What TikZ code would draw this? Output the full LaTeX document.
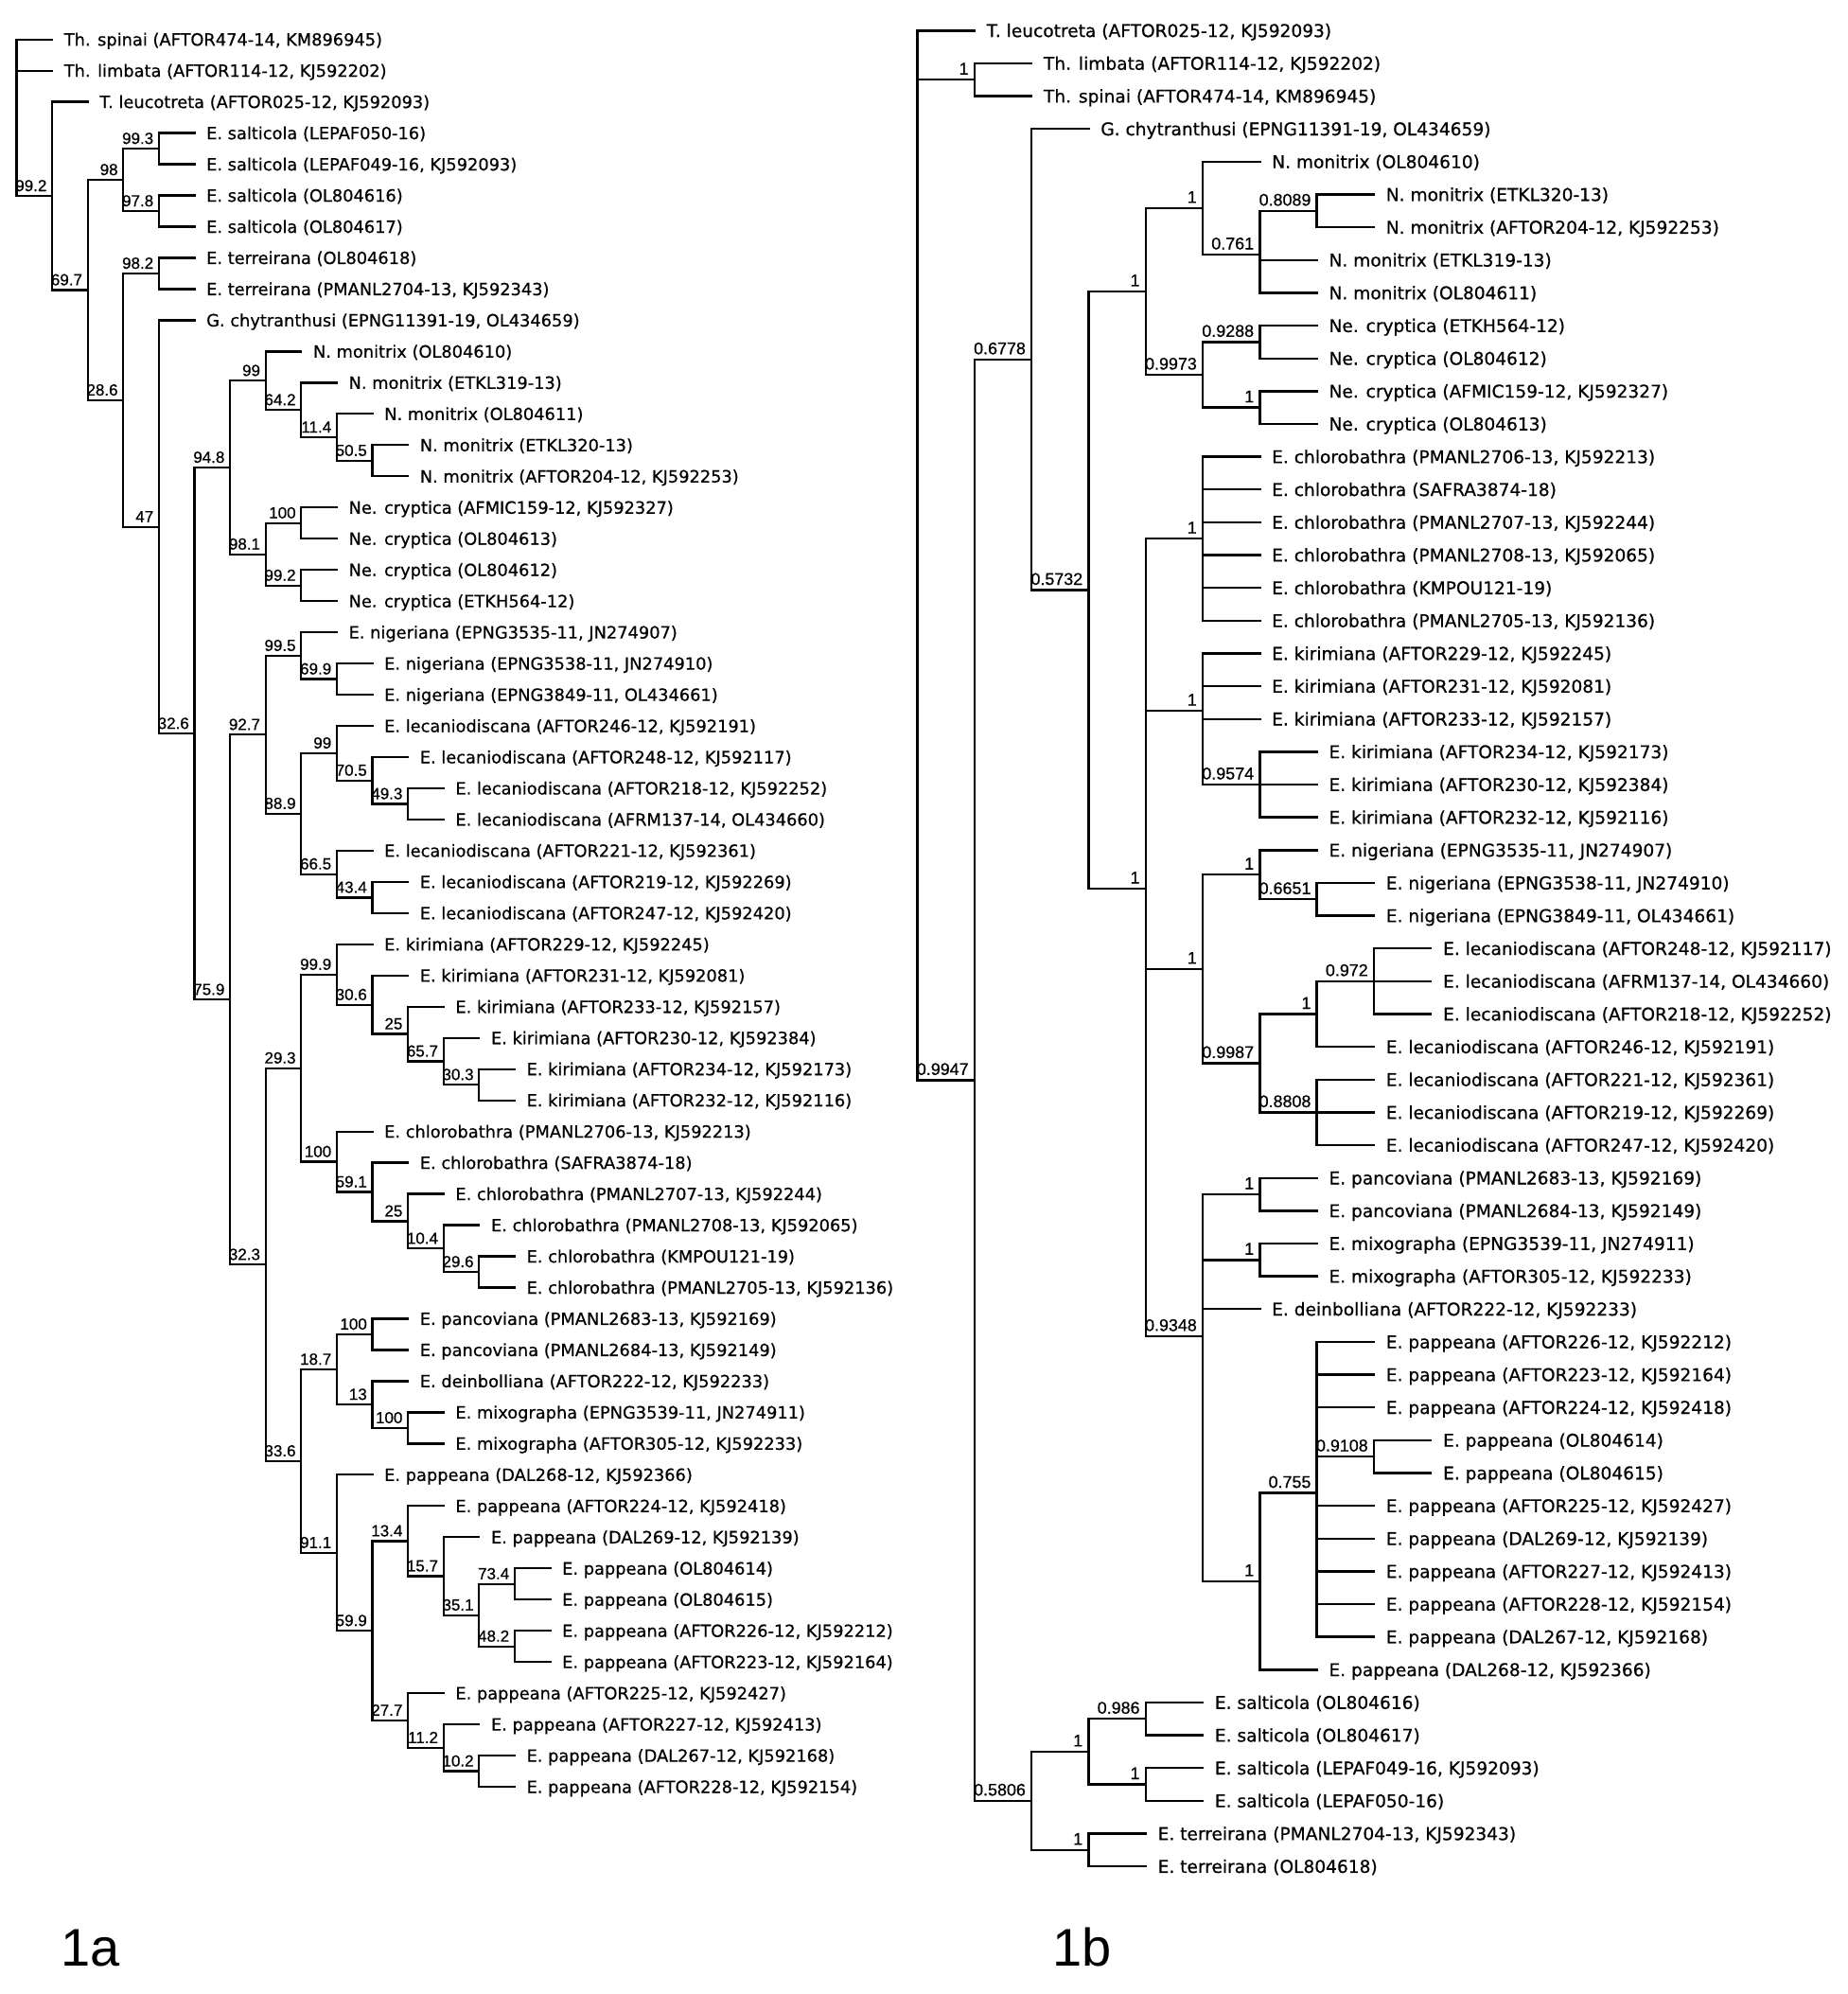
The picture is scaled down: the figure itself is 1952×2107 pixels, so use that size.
\documentclass[tikz,border=0pt]{standalone}
\usepackage{fontspec}
\setmainfont{DejaVu Sans}
\newfontfamily\leaffont{DejaVu Sans}[FakeBold=0.6]
\newfontfamily\supfont{Liberation Sans}[FakeBold=0.6]
\newfontfamily\panelfont{Liberation Sans}
\newcommand\leafL[5]{\coordinate (#1) at ({lx(#3)},{ly(#4)}); \draw[brL] (#2) |- (#1); \node[lleaf] (#1t) at ([xshift=12.5pt,yshift=-6.5pt]#1) {#5};}
\newcommand\intL[5]{\coordinate (#1) at ({lx(#3)},{ly(#4)}); \draw[brL] (#2) |- (#1); \node[lsup] (#1s) at ([xshift=-5.5pt,yshift=5pt]#1) {#5};}
\newcommand\leafR[5]{\coordinate (#1) at ({rx(#3)},{ry(#4)}); \draw[brR] (#2) |- (#1); \node[rleaf] (#1t) at ([xshift=12.7pt,yshift=-6.8pt]#1) {#5};}
\newcommand\intR[5]{\coordinate (#1) at ({rx(#3)},{ry(#4)}); \draw[brR] (#2) |- (#1); \node[rsup] (#1s) at ([xshift=-6pt,yshift=5.5pt]#1) {#5};}
\begin{document}
\begin{tikzpicture}[x=1pt,y=-1pt,
  declare function={lx(\p)=17.5+37.6*\p; ly(\q)=41.7+32.97*(\q-1); rx(\p)=969.5+60.3*\p; ry(\q)=32.3+34.64*(\q-1);},
  brL/.style={line width=2.3pt, line cap=rect},
  brR/.style={line width=2.4pt, line cap=rect},
  lleaf/.style={anchor=base west, inner sep=0pt, font=\leaffont\fontsize{17.8}{20}\selectfont},
  rleaf/.style={anchor=base west, inner sep=0pt, font=\leaffont\fontsize{18.6}{21}\selectfont},
  lsup/.style={anchor=base east, inner sep=0pt, font=\supfont\fontsize{17}{18}\selectfont},
  rsup/.style={anchor=base east, inner sep=0pt, font=\supfont\fontsize{17.9}{19}\selectfont},
  panel/.style={anchor=base west, inner sep=0pt, font=\panelfont\fontsize{56}{60}\selectfont}]
\fill[white] (0,0) rectangle (1952,2107);
\useasboundingbox (0,0) rectangle (1952,2107);
% ---------------- left tree (1a) ----------------
\coordinate (aR) at ({lx(0)},{ly(3.0051)});
\leafL{a1}{aR}{1}{1}{Th. spinai (AFTOR474-14, KM896945)}
\leafL{a2}{aR}{1}{2}{Th. limbata (AFTOR114-12, KJ592202)}
\intL{aA}{aR}{1}{6.01538}{99.2}
\leafL{a3}{aA}{2}{3}{T. leucotreta (AFTOR025-12, KJ592093)}
\intL{aB}{aA}{2}{9.03076}{69.7}
\intL{aC}{aB}{3}{5.5}{98}
\intL{aE}{aC}{4}{4.5}{99.3}
\leafL{a4}{aE}{5}{4}{E. salticola (LEPAF050-16)}
\leafL{a5}{aE}{5}{5}{E. salticola (LEPAF049-16, KJ592093)}
\intL{aF}{aC}{4}{6.5}{97.8}
\leafL{a6}{aF}{5}{6}{E. salticola (OL804616)}
\leafL{a7}{aF}{5}{7}{E. salticola (OL804617)}
\intL{aD}{aB}{3}{12.56152}{28.6}
\intL{aG}{aD}{4}{8.5}{98.2}
\leafL{a8}{aG}{5}{8}{E. terreirana (OL804618)}
\leafL{a9}{aG}{5}{9}{E. terreirana (PMANL2704-13, KJ592343)}
\intL{aH}{aD}{4}{16.62305}{47}
\leafL{a10}{aH}{5}{10}{G. chytranthusi (EPNG11391-19, OL434659)}
\intL{aI}{aH}{5}{23.24609}{32.6}
\intL{aJ}{aI}{6}{14.71875}{94.8}
\intL{aM}{aJ}{7}{11.9375}{99}
\leafL{a11}{aM}{8}{11}{N. monitrix (OL804610)}
\intL{aO}{aM}{8}{12.875}{64.2}
\leafL{a12}{aO}{9}{12}{N. monitrix (ETKL319-13)}
\intL{aP}{aO}{9}{13.75}{11.4}
\leafL{a13}{aP}{10}{13}{N. monitrix (OL804611)}
\intL{aQ}{aP}{10}{14.5}{50.5}
\leafL{a14}{aQ}{11}{14}{N. monitrix (ETKL320-13)}
\leafL{a15}{aQ}{11}{15}{N. monitrix (AFTOR204-12, KJ592253)}
\intL{aN}{aJ}{7}{17.5}{98.1}
\intL{aS}{aN}{8}{16.5}{100}
\leafL{a16}{aS}{9}{16}{Ne. cryptica (AFMIC159-12, KJ592327)}
\leafL{a17}{aS}{9}{17}{Ne. cryptica (OL804613)}
\intL{aT}{aN}{8}{18.5}{99.2}
\leafL{a18}{aT}{9}{18}{Ne. cryptica (OL804612)}
\leafL{a19}{aT}{9}{19}{Ne. cryptica (ETKH564-12)}
\intL{aK}{aI}{6}{31.77344}{75.9}
\intL{aU}{aK}{7}{23.28125}{92.7}
\intL{aW}{aU}{8}{20.75}{99.5}
\leafL{a20}{aW}{9}{20}{E. nigeriana (EPNG3535-11, JN274907)}
\intL{aY}{aW}{9}{21.5}{69.9}
\leafL{a21}{aY}{10}{21}{E. nigeriana (EPNG3538-11, JN274910)}
\leafL{a22}{aY}{10}{22}{E. nigeriana (EPNG3849-11, OL434661)}
\intL{aX}{aU}{8}{25.8125}{88.9}
\intL{aZ}{aX}{9}{23.875}{99}
\leafL{a23}{aZ}{10}{23}{E. lecaniodiscana (AFTOR246-12, KJ592191)}
\intL{aAB}{aZ}{10}{24.75}{70.5}
\leafL{a24}{aAB}{11}{24}{E. lecaniodiscana (AFTOR248-12, KJ592117)}
\intL{aAC}{aAB}{11}{25.5}{49.3}
\leafL{a25}{aAC}{12}{25}{E. lecaniodiscana (AFTOR218-12, KJ592252)}
\leafL{a26}{aAC}{12}{26}{E. lecaniodiscana (AFRM137-14, OL434660)}
\intL{aAA}{aX}{9}{27.75}{66.5}
\leafL{a27}{aAA}{10}{27}{E. lecaniodiscana (AFTOR221-12, KJ592361)}
\intL{aAD}{aAA}{10}{28.5}{43.4}
\leafL{a28}{aAD}{11}{28}{E. lecaniodiscana (AFTOR219-12, KJ592269)}
\leafL{a29}{aAD}{11}{29}{E. lecaniodiscana (AFTOR247-12, KJ592420)}
\intL{aV}{aK}{7}{40.26563}{32.3}
\intL{aAE}{aV}{8}{33.96875}{29.3}
\intL{aAG}{aAE}{9}{30.96875}{99.9}
\leafL{a30}{aAG}{10}{30}{E. kirimiana (AFTOR229-12, KJ592245)}
\intL{aAI}{aAG}{10}{31.9375}{30.6}
\leafL{a31}{aAI}{11}{31}{E. kirimiana (AFTOR231-12, KJ592081)}
\intL{aAJ}{aAI}{11}{32.875}{25}
\leafL{a32}{aAJ}{12}{32}{E. kirimiana (AFTOR233-12, KJ592157)}
\intL{aAK}{aAJ}{12}{33.75}{65.7}
\leafL{a33}{aAK}{13}{33}{E. kirimiana (AFTOR230-12, KJ592384)}
\intL{aAL}{aAK}{13}{34.5}{30.3}
\leafL{a34}{aAL}{14}{34}{E. kirimiana (AFTOR234-12, KJ592173)}
\leafL{a35}{aAL}{14}{35}{E. kirimiana (AFTOR232-12, KJ592116)}
\intL{aAH}{aAE}{9}{36.96875}{100}
\leafL{a36}{aAH}{10}{36}{E. chlorobathra (PMANL2706-13, KJ592213)}
\intL{aAM}{aAH}{10}{37.9375}{59.1}
\leafL{a37}{aAM}{11}{37}{E. chlorobathra (SAFRA3874-18)}
\intL{aAN}{aAM}{11}{38.875}{25}
\leafL{a38}{aAN}{12}{38}{E. chlorobathra (PMANL2707-13, KJ592244)}
\intL{aAO}{aAN}{12}{39.75}{10.4}
\leafL{a39}{aAO}{13}{39}{E. chlorobathra (PMANL2708-13, KJ592065)}
\intL{aAP}{aAO}{13}{40.5}{29.6}
\leafL{a40}{aAP}{14}{40}{E. chlorobathra (KMPOU121-19)}
\leafL{a41}{aAP}{14}{41}{E. chlorobathra (PMANL2705-13, KJ592136)}
\intL{aAF}{aV}{8}{46.5625}{33.6}
\intL{aAQ}{aAF}{9}{43.625}{18.7}
\intL{aAS}{aAQ}{10}{42.5}{100}
\leafL{a42}{aAS}{11}{42}{E. pancoviana (PMANL2683-13, KJ592169)}
\leafL{a43}{aAS}{11}{43}{E. pancoviana (PMANL2684-13, KJ592149)}
\intL{aAT}{aAQ}{10}{44.75}{13}
\leafL{a44}{aAT}{11}{44}{E. deinbolliana (AFTOR222-12, KJ592233)}
\intL{aAU}{aAT}{11}{45.5}{100}
\leafL{a45}{aAU}{12}{45}{E. mixographa (EPNG3539-11, JN274911)}
\leafL{a46}{aAU}{12}{46}{E. mixographa (AFTOR305-12, KJ592233)}
\intL{aAR}{aAF}{9}{49.5}{91.1}
\leafL{a47}{aAR}{10}{47}{E. pappeana (DAL268-12, KJ592366)}
\intL{aAV}{aAR}{10}{52}{59.9}
\intL{aAW}{aAV}{11}{49.125}{13.4}
\leafL{a48}{aAW}{12}{48}{E. pappeana (AFTOR224-12, KJ592418)}
\intL{aAY}{aAW}{12}{50.25}{15.7}
\leafL{a49}{aAY}{13}{49}{E. pappeana (DAL269-12, KJ592139)}
\intL{aAZ}{aAY}{13}{51.5}{35.1}
\intL{aBA}{aAZ}{14}{50.5}{73.4}
\leafL{a50}{aBA}{15}{50}{E. pappeana (OL804614)}
\leafL{a51}{aBA}{15}{51}{E. pappeana (OL804615)}
\intL{aBB}{aAZ}{14}{52.5}{48.2}
\leafL{a52}{aBB}{15}{52}{E. pappeana (AFTOR226-12, KJ592212)}
\leafL{a53}{aBB}{15}{53}{E. pappeana (AFTOR223-12, KJ592164)}
\intL{aAX}{aAV}{11}{54.875}{27.7}
\leafL{a54}{aAX}{12}{54}{E. pappeana (AFTOR225-12, KJ592427)}
\intL{aBC}{aAX}{12}{55.75}{11.2}
\leafL{a55}{aBC}{13}{55}{E. pappeana (AFTOR227-12, KJ592413)}
\intL{aBD}{aBC}{13}{56.5}{10.2}
\leafL{a56}{aBD}{14}{56}{E. pappeana (DAL267-12, KJ592168)}
\leafL{a57}{aBD}{14}{57}{E. pappeana (AFTOR228-12, KJ592154)}
% ---------------- right tree (1b) ----------------
\coordinate (bR) at ({rx(0)},{ry(12.17)});
\leafR{b1}{bR}{1}{1}{T. leucotreta (AFTOR025-12, KJ592093)}
\intR{bq1}{bR}{1}{2.5}{1}
\leafR{b2}{bq1}{2}{2}{Th. limbata (AFTOR114-12, KJ592202)}
\leafR{b3}{bq1}{2}{3}{Th. spinai (AFTOR474-14, KM896945)}
\intR{bq2}{bR}{1}{33.01671}{0.9947}
\intR{bq3}{bq2}{2}{11.03342}{0.6778}
\leafR{b4}{bq3}{3}{4}{G. chytranthusi (EPNG11391-19, OL434659)}
\intR{bq5}{bq3}{3}{18.06684}{0.5732}
\intR{bq6}{bq5}{4}{8.958333}{1}
\intR{bq8}{bq6}{5}{6.416667}{1}
\leafR{b5}{bq8}{6}{5}{N. monitrix (OL804610)}
\intR{bq10}{bq8}{6}{7.833333}{0.761}
\intR{bq11}{bq10}{7}{6.5}{0.8089}
\leafR{b6}{bq11}{8}{6}{N. monitrix (ETKL320-13)}
\leafR{b7}{bq11}{8}{7}{N. monitrix (AFTOR204-12, KJ592253)}
\leafR{b8}{bq10}{7}{8}{N. monitrix (ETKL319-13)}
\leafR{b9}{bq10}{7}{9}{N. monitrix (OL804611)}
\intR{bq9}{bq6}{5}{11.5}{0.9973}
\intR{bq12}{bq9}{6}{10.5}{0.9288}
\leafR{b10}{bq12}{7}{10}{Ne. cryptica (ETKH564-12)}
\leafR{b11}{bq12}{7}{11}{Ne. cryptica (OL804612)}
\intR{bq13}{bq9}{6}{12.5}{1}
\leafR{b12}{bq13}{7}{12}{Ne. cryptica (AFMIC159-12, KJ592327)}
\leafR{b13}{bq13}{7}{13}{Ne. cryptica (OL804613)}
\intR{bq7}{bq5}{4}{27.17535}{1}
\intR{bq14}{bq7}{5}{16.5}{1}
\leafR{b14}{bq14}{6}{14}{E. chlorobathra (PMANL2706-13, KJ592213)}
\leafR{b15}{bq14}{6}{15}{E. chlorobathra (SAFRA3874-18)}
\leafR{b16}{bq14}{6}{16}{E. chlorobathra (PMANL2707-13, KJ592244)}
\leafR{b17}{bq14}{6}{17}{E. chlorobathra (PMANL2708-13, KJ592065)}
\leafR{b18}{bq14}{6}{18}{E. chlorobathra (KMPOU121-19)}
\leafR{b19}{bq14}{6}{19}{E. chlorobathra (PMANL2705-13, KJ592136)}
\intR{bq15}{bq7}{5}{21.75}{1}
\leafR{b20}{bq15}{6}{20}{E. kirimiana (AFTOR229-12, KJ592245)}
\leafR{b21}{bq15}{6}{21}{E. kirimiana (AFTOR231-12, KJ592081)}
\leafR{b22}{bq15}{6}{22}{E. kirimiana (AFTOR233-12, KJ592157)}
\intR{bq18}{bq15}{6}{24}{0.9574}
\leafR{b23}{bq18}{7}{23}{E. kirimiana (AFTOR234-12, KJ592173)}
\leafR{b24}{bq18}{7}{24}{E. kirimiana (AFTOR230-12, KJ592384)}
\leafR{b25}{bq18}{7}{25}{E. kirimiana (AFTOR232-12, KJ592116)}
\intR{bq16}{bq7}{5}{29.625}{1}
\intR{bq19}{bq16}{6}{26.75}{1}
\leafR{b26}{bq19}{7}{26}{E. nigeriana (EPNG3535-11, JN274907)}
\intR{bq21}{bq19}{7}{27.5}{0.6651}
\leafR{b27}{bq21}{8}{27}{E. nigeriana (EPNG3538-11, JN274910)}
\leafR{b28}{bq21}{8}{28}{E. nigeriana (EPNG3849-11, OL434661)}
\intR{bq20}{bq16}{6}{32.5}{0.9987}
\intR{bq22}{bq20}{7}{31}{1}
\intR{bq24}{bq22}{8}{30}{0.972}
\leafR{b29}{bq24}{9}{29}{E. lecaniodiscana (AFTOR248-12, KJ592117)}
\leafR{b30}{bq24}{9}{30}{E. lecaniodiscana (AFRM137-14, OL434660)}
\leafR{b31}{bq24}{9}{31}{E. lecaniodiscana (AFTOR218-12, KJ592252)}
\leafR{b32}{bq22}{8}{32}{E. lecaniodiscana (AFTOR246-12, KJ592191)}
\intR{bq23}{bq20}{7}{34}{0.8808}
\leafR{b33}{bq23}{8}{33}{E. lecaniodiscana (AFTOR221-12, KJ592361)}
\leafR{b34}{bq23}{8}{34}{E. lecaniodiscana (AFTOR219-12, KJ592269)}
\leafR{b35}{bq23}{8}{35}{E. lecaniodiscana (AFTOR247-12, KJ592420)}
\intR{bq17}{bq7}{5}{40.82639}{0.9348}
\intR{bq25}{bq17}{6}{36.5}{1}
\leafR{b36}{bq25}{7}{36}{E. pancoviana (PMANL2683-13, KJ592169)}
\leafR{b37}{bq25}{7}{37}{E. pancoviana (PMANL2684-13, KJ592149)}
\intR{bq26}{bq17}{6}{38.5}{1}
\leafR{b38}{bq26}{7}{38}{E. mixographa (EPNG3539-11, JN274911)}
\leafR{b39}{bq26}{7}{39}{E. mixographa (AFTOR305-12, KJ592233)}
\leafR{b40}{bq17}{6}{40}{E. deinbolliana (AFTOR222-12, KJ592233)}
\intR{bq27}{bq17}{6}{48.30556}{1}
\intR{bq28}{bq27}{7}{45.61111}{0.755}
\leafR{b41}{bq28}{8}{41}{E. pappeana (AFTOR226-12, KJ592212)}
\leafR{b42}{bq28}{8}{42}{E. pappeana (AFTOR223-12, KJ592164)}
\leafR{b43}{bq28}{8}{43}{E. pappeana (AFTOR224-12, KJ592418)}
\intR{bq29}{bq28}{8}{44.5}{0.9108}
\leafR{b44}{bq29}{9}{44}{E. pappeana (OL804614)}
\leafR{b45}{bq29}{9}{45}{E. pappeana (OL804615)}
\leafR{b46}{bq28}{8}{46}{E. pappeana (AFTOR225-12, KJ592427)}
\leafR{b47}{bq28}{8}{47}{E. pappeana (DAL269-12, KJ592139)}
\leafR{b48}{bq28}{8}{48}{E. pappeana (AFTOR227-12, KJ592413)}
\leafR{b49}{bq28}{8}{49}{E. pappeana (AFTOR228-12, KJ592154)}
\leafR{b50}{bq28}{8}{50}{E. pappeana (DAL267-12, KJ592168)}
\leafR{b51}{bq27}{7}{51}{E. pappeana (DAL268-12, KJ592366)}
\intR{bq4}{bq2}{2}{55}{0.5806}
\intR{bq30}{bq4}{3}{53.5}{1}
\intR{bq32}{bq30}{4}{52.5}{0.986}
\leafR{b52}{bq32}{5}{52}{E. salticola (OL804616)}
\leafR{b53}{bq32}{5}{53}{E. salticola (OL804617)}
\intR{bq33}{bq30}{4}{54.5}{1}
\leafR{b54}{bq33}{5}{54}{E. salticola (LEPAF049-16, KJ592093)}
\leafR{b55}{bq33}{5}{55}{E. salticola (LEPAF050-16)}
\intR{bq31}{bq4}{3}{56.5}{1}
\leafR{b56}{bq31}{4}{56}{E. terreirana (PMANL2704-13, KJ592343)}
\leafR{b57}{bq31}{4}{57}{E. terreirana (OL804618)}
% ---------------- panel labels ----------------
\node[panel] (p1a) at (64,2077) {1a};
\node[panel] (p1b) at (1112,2077) {1b};
\end{tikzpicture}
\end{document}
